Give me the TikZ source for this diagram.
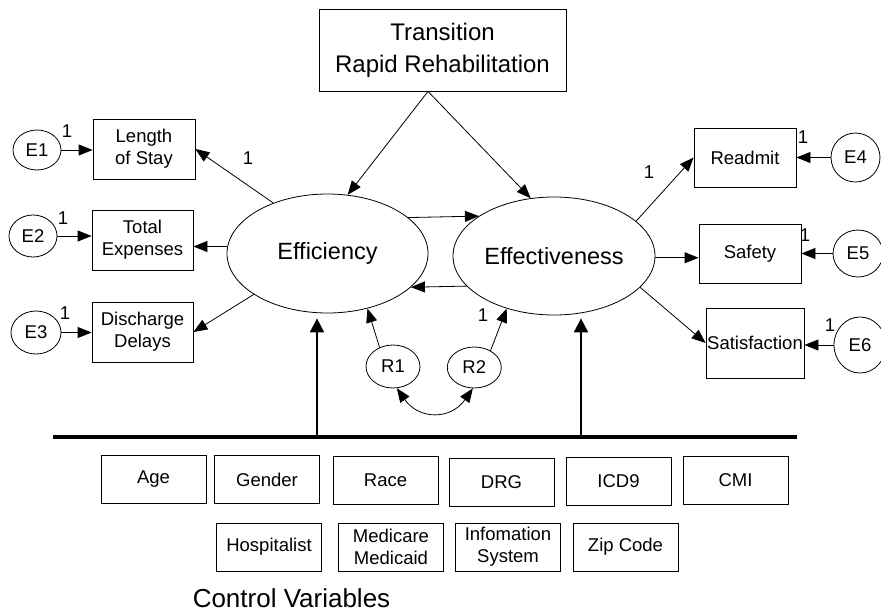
\documentclass[tikz,border=0pt]{standalone}
\usepackage{fontspec}
\setmainfont{Liberation Sans}
\usetikzlibrary{arrows.meta,shapes.geometric}

\begin{document}
\begin{tikzpicture}[x=1pt, y=-1pt, line width=0.8pt,
    obs/.style={draw, rectangle, inner sep=0pt, align=center, font=\fontsize{18.5}{22}\selectfont},
    lat/.style={draw, ellipse, inner sep=0pt, font=\fontsize{23.5}{28}\selectfont},
    err/.style={draw, ellipse, inner sep=0pt, font=\fontsize{18.5}{22}\selectfont},
    ctrl/.style={obs, minimum width=105pt, minimum height=48pt},
    wt/.style={inner sep=0pt, font=\fontsize{18.5}{22}\selectfont},
    arr/.style={-{Triangle[length=14pt,width=11pt]}},
    twoway/.style={{Triangle[length=14pt,width=11pt]}-{Triangle[length=14pt,width=11pt]}},
    ctrlarr/.style={line width=2pt, -{Triangle[length=14pt,width=14pt]}},
    bar/.style={line width=4pt}]
    \useasboundingbox (0,0) rectangle (881,611);
% Exogenous factor
    \node[obs, minimum width=247pt, minimum height=82pt, font=\fontsize{24}{32}\selectfont] (trans) at (442.5,50) {Transition\\Rapid Rehabilitation};
% Latent variables
    \node[lat, minimum width=201pt, minimum height=119pt] (effic) at (327.5,253.5) {Efficiency};
    \node[lat, minimum width=202pt, minimum height=118pt] (effect) at (554,256) {Effectiveness};
% Indicators of Efficiency
    \node[obs, minimum width=102pt, minimum height=60pt] (stay) at (144,149) {Length\\of Stay};
    \node[obs, minimum width=101pt, minimum height=60pt] (expense) at (142.5,240) {Total\\Expenses};
    \node[obs, minimum width=101pt, minimum height=60pt] (delay) at (142.5,332) {Discharge\\Delays};
% Indicators of Effectiveness
    \node[obs, minimum width=102pt, minimum height=59pt] (readmit) at (745,157.5) {Readmit};
    \node[obs, minimum width=102pt, minimum height=59pt] (safety) at (750,253.5) {Safety};
    \node[obs, minimum width=98pt, minimum height=70pt] (satisf) at (755,343) {Satisfaction};
% Error terms
    \node[err, minimum width=48pt, minimum height=40pt] (e1) at (37,150) {E1};
    \node[err, minimum width=48pt, minimum height=42pt] (e2) at (33,236) {E2};
    \node[err, minimum width=50pt, minimum height=43pt] (e3) at (36,332.5) {E3};
    \node[err, minimum width=49pt, minimum height=49pt] (e4) at (855.5,157.5) {E4};
    \node[err, minimum width=50pt, minimum height=47pt] (e5) at (858,253.5) {E5};
    \node[err, minimum width=52pt, minimum height=56pt] (e6) at (860,345) {E6};
% Residuals
    \node[err, minimum width=54pt, minimum height=43pt] (r1) at (393,366.5) {R1};
    \node[err, minimum width=54pt, minimum height=41pt] (r2) at (474.3,367.5) {R2};
% Paths from the exogenous factor
    \draw[arr] ([xshift=-14.5pt]trans.south) -- (effic.71.6);
    \draw[arr] ([xshift=-14.5pt]trans.south) -- (effect.112.1);
% Reciprocal paths
    \draw[arr] (effic.24.7) -- (effect.152.8);
    \draw[arr] (effect.199.85) -- (effic.338);
% Efficiency to its indicators
    \draw[arr] (effic.137) -- (stay.east);
    \draw[arr] (effic.176) -- (effic.176 -| expense.east);
    \draw[arr] (effic.209.4) -- (delay.east);
% Effectiveness to its indicators
    \draw[arr] (effect.23.4) -- (readmit.west);
    \draw[arr] (effect.-1.5) -- (effect.-1.5 -| safety.west);
    \draw[arr] (effect.-20.6) -- (satisf.west);
% Error terms to indicators
    \draw[arr] (e1.east) -- (e1.east -| stay.west);
    \draw[arr] (e2.east) -- (e2.east -| expense.west);
    \draw[arr] (e3.east) -- (e3.east -| delay.west);
    \draw[arr] (e4.west) -- (e4.west -| readmit.east);
    \draw[arr] (e5.west) -- (e5.west -| safety.east);
    \draw[arr] (e6.west) -- (e6.west -| satisf.east);
% Residuals
    \draw[arr] (r1.125.7) -- (effic.306.6);
    \draw[arr] (r2.46.3) -- (effect.228.8);
    \draw[twoway] (r1.280) to[out=-55, in=-125, looseness=1.3] (r2.266);
% Fixed weights
    \node[wt] (w1) at (248,158) {1};
    \node[wt] (w2) at (649,172) {1};
    \node[wt] (w3) at (483,315) {1};
    \node[wt] (we1) at (67,131) {1};
    \node[wt] (we2) at (63,218) {1};
    \node[wt] (we3) at (65,313) {1};
    \node[wt] (we4) at (803,137) {1};
    \node[wt] (we5) at (805,235) {1};
    \node[wt] (we6) at (830,325) {1};
% Control bar
    \coordinate (barW) at (53,437);
    \coordinate (barE) at (797,437);
    \coordinate (up1) at (317,437);
    \coordinate (up2) at (581,437);
    \draw[bar] (barW) -- (barE);
    \draw[ctrlarr, shorten >=5pt] (up1) -- (up1 |- effic.south);
    \draw[ctrlarr, shorten >=3pt] (up2) -- (up2 |- effect.south);
% Control variables, first row
    \node[ctrl] (age) at (153.5,479) {Age};
    \node[ctrl] (gender) at (267,479.5) {Gender};
    \node[ctrl] (race) at (385.5,480.5) {Race};
    \node[ctrl] (drg) at (501.5,482) {DRG};
    \node[ctrl] (icd) at (618.5,481) {ICD9};
    \node[ctrl] (cmi) at (735.5,480) {CMI};
% Control variables, second row
    \node[ctrl] (hosp) at (269,547) {Hospitalist};
    \node[ctrl] (medic) at (391,547) {Medicare\\Medicaid};
    \node[ctrl] (info) at (508,547) {Infomation\\System};
    \node[ctrl] (zip) at (625.5,547) {Zip Code};
    \node[anchor=base, inner sep=0pt, font=\fontsize{26}{30}\selectfont] (cvar) at (291.5,607) {Control Variables};
\end{tikzpicture}
\end{document}
